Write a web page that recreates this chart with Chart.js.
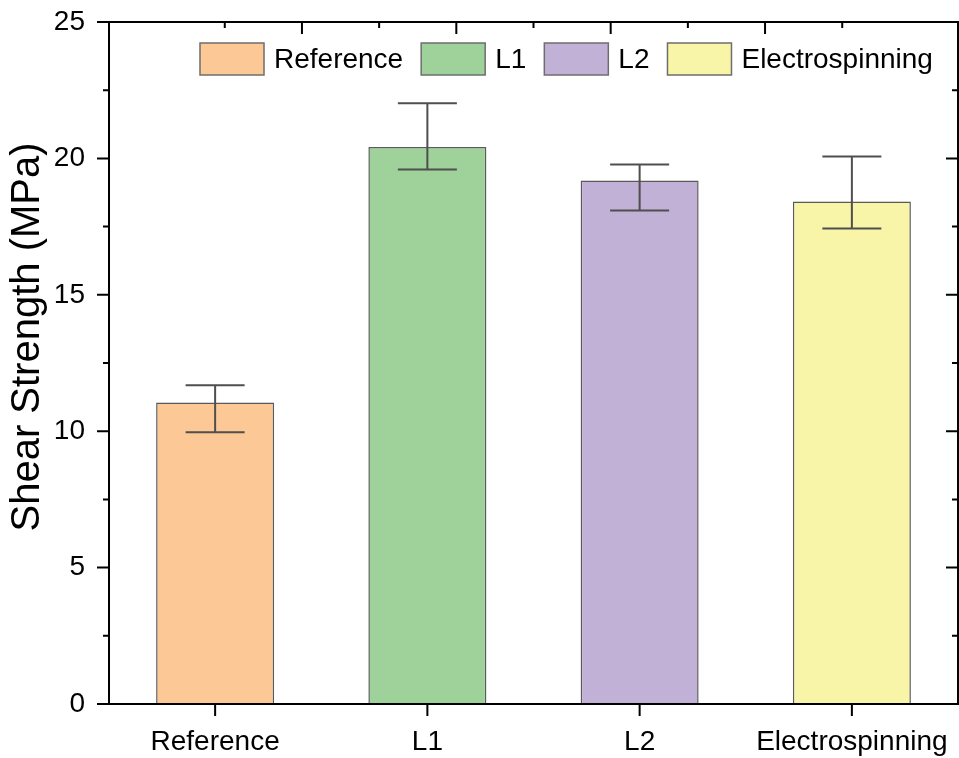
<!DOCTYPE html>
<html>
<head>
<meta charset="utf-8">
<script src="https://cdn.jsdelivr.net/npm/chart.js@4/dist/chart.umd.min.js"></script>
<style>
  html, body { margin: 0; padding: 0; background: #ffffff; }
  #wrap { width: 959px; height: 758px; }
</style>
</head>
<body>
<div id="wrap"><canvas id="c" width="959" height="758"></canvas></div>
<script>
// Shear strength of the four joint types (MPa)
const categories = ['Reference', 'L1', 'L2', 'Electrospinning'];
const shearStrength = [11.05, 20.42, 19.19, 18.42];
const errorUpper = [11.68, 22.02, 19.78, 20.07];
const errorLower = [9.96, 19.59, 18.09, 17.43];
const barColors = ['#FCC896', '#9FD19B', '#C2B1D6', '#F8F4A8'];
const yAxisTitle = 'Shear Strength (MPa)';

const FONT = '"Liberation Sans", Arial, Helvetica, sans-serif';

// keep the plot area fixed: no extra room reserved for overhanging labels
function noOverhang(scale) {
  scale.paddingTop = 0;
  scale.paddingBottom = 0;
  scale.paddingLeft = 0;
  scale.paddingRight = 0;
}

// Error bars, axis frame with major/minor ticks, title and in-plot legend
const decorations = {
  id: 'decorations',
  afterDatasetsDraw(chart) {
    const { ctx, chartArea: a, scales } = chart;
    const x = scales.x, y = scales.y, xTop = scales.xTop;
    const meta = chart.getDatasetMeta(0);
    ctx.save();

    // error bars
    ctx.strokeStyle = '#4f4f4f';
    ctx.lineWidth = 2;
    meta.data.forEach((bar, i) => {
      const cx = bar.x;
      const half = bar.width / 4;
      const yHi = y.getPixelForValue(errorUpper[i]);
      const yLo = y.getPixelForValue(errorLower[i]);
      ctx.beginPath();
      ctx.moveTo(cx, yHi); ctx.lineTo(cx, yLo);
      ctx.moveTo(cx - half, yHi); ctx.lineTo(cx + half, yHi);
      ctx.moveTo(cx - half, yLo); ctx.lineTo(cx + half, yLo);
      ctx.stroke();
    });

    // frame
    ctx.strokeStyle = '#000';
    ctx.lineWidth = 2;
    ctx.strokeRect(a.left, a.top, a.right - a.left, a.bottom - a.top);

    // left (outward) and right (inward) ticks, major every 5, minor every 2.5
    ctx.beginPath();
    for (let v = y.min; v <= y.max + 1e-9; v += 2.5) {
      const py = y.getPixelForValue(v);
      const major = Math.abs(v % 5) < 1e-9;
      const len = major ? 12 : 6;
      ctx.moveTo(a.left - len, py); ctx.lineTo(a.left, py);
      ctx.moveTo(a.right - len, py); ctx.lineTo(a.right, py);
    }
    // bottom ticks at category centres
    x.ticks.forEach((t, i) => {
      const px = x.getPixelForTick(i);
      ctx.moveTo(px, a.bottom); ctx.lineTo(px, a.bottom + 12);
    });
    // top ticks (inward)
    for (let v = xTop.min + 1; v < xTop.max; v++) {
      const px = xTop.getPixelForValue(v);
      const len = v % 2 === 0 ? 12 : 6;
      ctx.moveTo(px, a.top); ctx.lineTo(px, a.top + len);
    }
    ctx.stroke();

    // y-axis title
    ctx.save();
    ctx.translate(28, 337);
    ctx.rotate(-Math.PI / 2);
    ctx.font = '40px ' + FONT;
    ctx.fillStyle = '#000';
    ctx.textAlign = 'center';
    ctx.textBaseline = 'middle';
    ctx.fillText(yAxisTitle, 0, 0);
    ctx.restore();

    // legend
    ctx.font = '28px ' + FONT;
    ctx.textAlign = 'left';
    ctx.textBaseline = 'middle';
    let lx = a.left + 91;
    const boxTop = a.top + 21, boxW = 64, boxH = 32;
    categories.forEach((name, i) => {
      ctx.fillStyle = barColors[i];
      ctx.fillRect(lx, boxTop, boxW, boxH);
      ctx.strokeStyle = '#6e6e6e';
      ctx.lineWidth = 1.5;
      ctx.strokeRect(lx, boxTop, boxW, boxH);
      ctx.fillStyle = '#000';
      ctx.fillText(name, lx + boxW + 10, boxTop + boxH / 2 + 1);
      lx += boxW + 10 + ctx.measureText(name).width + 18;
    });

    ctx.restore();
  }
};

new Chart(document.getElementById('c'), {
  type: 'bar',
  data: {
    labels: categories,
    datasets: [{
      label: yAxisTitle,
      data: shearStrength,
      backgroundColor: barColors,
      borderColor: '#5a5a5a',
      borderWidth: 1.5,
      barPercentage: 0.556,
      categoryPercentage: 1.0
    }]
  },
  options: {
    responsive: false,
    devicePixelRatio: 1,
    animation: false,
    layout: { padding: { top: 22, right: 1, left: 0, bottom: 0 } },
    plugins: { legend: { display: false }, tooltip: { enabled: false } },
    scales: {
      x: {
        type: 'category',
        position: 'bottom',
        grid: { display: false },
        border: { display: false },
        ticks: { font: { family: FONT, size: 28 }, color: '#000', padding: 13, maxRotation: 0 },
        afterFit(scale) { scale.height = 54; noOverhang(scale); }
      },
      xTop: {
        type: 'linear',
        position: 'top',
        min: 0,
        max: 10,
        display: false
      },
      y: {
        min: 0,
        max: 25,
        ticks: { stepSize: 5, font: { family: FONT, size: 28 }, color: '#000', padding: 16 },
        grid: { display: false },
        border: { display: false },
        afterFit(scale) { scale.width = 109; noOverhang(scale); }
      }
    }
  },
  plugins: [decorations]
});
</script>
</body>
</html>
